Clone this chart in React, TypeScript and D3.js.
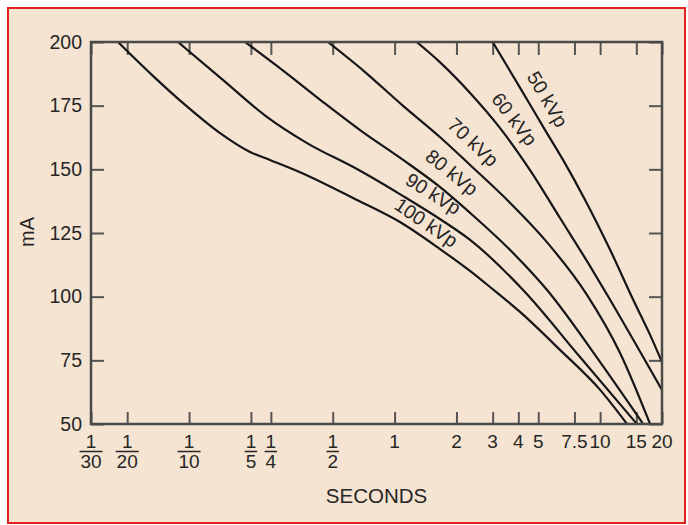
import React, { useEffect, useRef } from 'react';
import * as d3 from 'd3';

// mA vs exposure time, one curve per kVp; points are [seconds, mA]
const kvpNames = ['50 kVp', '60 kVp', '70 kVp', '80 kVp', '90 kVp', '100 kVp'];

const kvp50: [number, number][] = [
  [3.0, 200], [4.08, 182], [5.4, 165.4], [6.6, 153.7], [8.45, 138],
  [11.2, 118.3], [14.5, 98.7], [17.5, 85], [20, 74.3],
];
const kvp60: [number, number][] = [
  [1.28, 200], [1.66, 192.1], [2.33, 180], [3.26, 166.2], [4.56, 149.7],
  [6.38, 130.9], [8.93, 112], [11.2, 98.7], [14.8, 81.8], [20, 63.4],
];
const kvp70: [number, number][] = [
  [0.474, 200], [0.718, 188.2], [1.1, 174.9], [1.66, 162.7], [2.33, 151.7],
  [3.65, 136.8], [5.39, 122.3], [8.63, 100.7], [12.5, 77.9], [17.5, 50],
];
const kvp80: [number, number][] = [
  [0.1875, 200], [0.293, 188.2], [0.449, 176.4], [0.679, 165.4], [1.1, 153.7],
  [1.66, 143.1], [2.33, 132.9], [3.65, 118.3], [5.52, 102.6], [10, 74.3], [16.2, 50],
];
const kvp90: [number, number][] = [
  [0.0883, 200], [0.146, 185.1], [0.239, 170.6], [0.375, 160.3], [0.656, 150.1],
  [1.1, 139.5], [1.66, 130.5], [2.33, 122.3], [4.22, 102.6], [7.98, 76.3], [15.1, 50],
];
const kvp100: [number, number][] = [
  [0.0451, 200], [0.0661, 187], [0.0957, 175.3], [0.141, 164.3], [0.198, 156.8],
  [0.2475, 153.7], [0.3465, 148.9], [0.656, 138], [1.062, 129.3], [1.663, 118.7],
  [2.327, 110.1], [2.912, 103.8], [4.076, 94.0], [6.38, 79.1], [10, 63.4], [13.52, 50],
];

// where (in mA) each curve label sits
const labelMA = [174, 165.7, 155.3, 143, 134.5, 124.6];

const xTickValues = [1 / 30, 1 / 20, 1 / 10, 1 / 5, 1 / 4, 1 / 2, 1, 2, 3, 4, 5, 7.5, 10, 15, 20];
const xTickLabels = ['1/30', '1/20', '1/10', '1/5', '1/4', '1/2', '1', '2', '3', '4', '5', '7.5', '10', '15', '20'];
const yTickValues = [50, 75, 100, 125, 150, 175, 200];

const App = () => {
  const svgRef = useRef<SVGSVGElement>(null);

  useEffect(() => {
    const width = 688;
    const height = 525;
    const left = 91;
    const right = 662;
    const top = 42;
    const bottom = 424;
    const font = '"Liberation Sans", Arial, sans-serif';
    const textColor = '#262626';
    const labelGap = [18, 17, 19, 19, 18, 14];

    const svg = d3.select(svgRef.current);
    svg.selectAll('*').remove();
    svg.attr('width', width).attr('height', height);

    svg.append('rect').attr('width', width).attr('height', height).attr('fill', '#fff');
    svg.append('rect')
      .attr('x', 8).attr('y', 8)
      .attr('width', 677).attr('height', 515)
      .attr('fill', '#f5e4d1')
      .attr('stroke', '#e3201f')
      .attr('stroke-width', 2);

    const x = d3.scaleLog().domain([1 / 30, 20]).range([left, right]);
    const y = d3.scaleLinear().domain([50, 200]).range([bottom, top]);

    const styleAxis = (g: any) => {
      g.select('.domain').remove();
      g.selectAll('.tick line').attr('stroke', '#555').attr('stroke-width', 2);
      g.selectAll('text')
        .attr('font-family', font)
        .attr('font-size', 19.5)
        .attr('fill', textColor);
    };

    svg.append('g')
      .attr('transform', `translate(${left},0)`)
      .call(d3.axisLeft(y).tickValues(yTickValues).tickSize(-13).tickPadding(9).tickFormat(d3.format('d')))
      .call(styleAxis);
    svg.append('g')
      .attr('transform', `translate(${right},0)`)
      .call(d3.axisRight(y).tickValues(yTickValues).tickSize(-13).tickFormat(() => ''))
      .call(styleAxis);
    svg.append('g')
      .attr('transform', `translate(0,${top})`)
      .call(d3.axisTop(x).tickValues(xTickValues).tickSize(-13).tickFormat(() => ''))
      .call(styleAxis);
    svg.append('g')
      .attr('transform', `translate(0,${bottom})`)
      .call(d3.axisBottom(x).tickValues(xTickValues).tickSize(-12).tickFormat(() => ''))
      .call(styleAxis);

    // x tick labels, fractions stacked
    const xl = svg.append('g')
      .attr('font-family', font)
      .attr('font-size', 19)
      .attr('fill', textColor)
      .attr('text-anchor', 'middle');
    xTickValues.forEach((v, i) => {
      const label = xTickLabels[i];
      const px = x(v);
      if (label.includes('/')) {
        const [num, den] = label.split('/');
        xl.append('text').attr('x', px).attr('y', 448).text(num);
        const w = den.length * 10.5 + 2;
        xl.append('line')
          .attr('x1', px - w / 2).attr('x2', px + w / 2)
          .attr('y1', 451.5).attr('y2', 451.5)
          .attr('stroke', textColor).attr('stroke-width', 1.5);
        xl.append('text').attr('x', px).attr('y', 468).text(den);
      } else {
        xl.append('text').attr('x', px).attr('y', 448).text(label);
      }
    });

    svg.append('text')
      .attr('x', (left + right) / 2)
      .attr('y', 503)
      .attr('text-anchor', 'middle')
      .attr('font-family', font)
      .attr('font-size', 20.5)
      .attr('fill', textColor)
      .text('SECONDS');

    svg.append('text')
      .attr('transform', 'translate(34,232) rotate(-90)')
      .attr('text-anchor', 'middle')
      .attr('font-family', font)
      .attr('font-size', 20)
      .attr('fill', textColor)
      .text('mA');

    // curves
    svg.append('clipPath').attr('id', 'plot-clip')
      .append('rect')
      .attr('x', left).attr('y', top)
      .attr('width', right - left).attr('height', bottom - top);

    const line = d3.line<[number, number]>()
      .x((d) => x(d[0]))
      .y((d) => y(d[1]))
      .curve(d3.curveMonotoneX);

    const curves = [kvp50, kvp60, kvp70, kvp80, kvp90, kvp100];
    const curveG = svg.append('g').attr('clip-path', 'url(#plot-clip)');
    curves.forEach((pts, i) => {
      const path = curveG.append('path')
        .datum(pts)
        .attr('d', line)
        .attr('fill', 'none')
        .attr('stroke', '#161616')
        .attr('stroke-width', 2.2);

      // label placed along the curve, rotated to its slope
      const node = path.node() as SVGPathElement;
      const total = node.getTotalLength();
      const targetY = y(labelMA[i]);
      let lo = 0;
      let hi = total;
      for (let k = 0; k < 40; k++) {
        const mid = (lo + hi) / 2;
        if (node.getPointAtLength(mid).y < targetY) lo = mid;
        else hi = mid;
      }
      const L = (lo + hi) / 2;
      const p = node.getPointAtLength(L);
      const p0 = node.getPointAtLength(Math.max(0, L - 6));
      const p1 = node.getPointAtLength(Math.min(total, L + 6));
      const a = Math.atan2(p1.y - p0.y, p1.x - p0.x);
      const off = labelGap[i];
      const cx = p.x + off * Math.sin(a);
      const cy = p.y - off * Math.cos(a);
      svg.append('text')
        .attr('transform', `translate(${cx},${cy}) rotate(${(a * 180) / Math.PI})`)
        .attr('text-anchor', 'middle')
        .attr('dominant-baseline', 'central')
        .attr('font-family', font)
        .attr('font-size', 19.5)
        .attr('fill', textColor)
        .text(kvpNames[i]);
    });

    svg.append('rect')
      .attr('x', left).attr('y', top)
      .attr('width', right - left).attr('height', bottom - top)
      .attr('fill', 'none')
      .attr('stroke', '#4a4a4a')
      .attr('stroke-width', 2.5);
  }, []);

  return (
    <div className="kvp-chart">
      <svg ref={svgRef} style={{ position: 'absolute', left: 0, top: 0 }}></svg>
    </div>
  );
};

export default App;
